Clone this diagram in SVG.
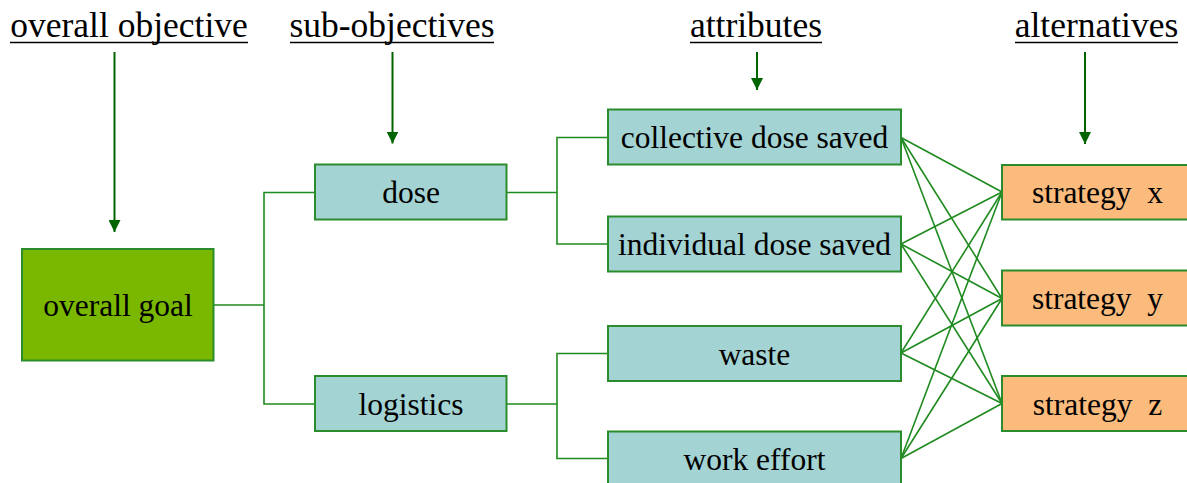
<svg xmlns="http://www.w3.org/2000/svg" width="1187" height="483" viewBox="0 0 1187 483">
<style>
.hdr{font-family:"Liberation Serif","Times New Roman",serif;font-size:35.5px;fill:#000;text-anchor:middle}
.lbl{font-family:"Liberation Serif","Times New Roman",serif;font-size:31.5px;fill:#000;text-anchor:middle}
.ul{stroke:#000;stroke-width:1.6}
.box{stroke:#2a8c2a;stroke-width:2}
.goal{fill:#7ab800}
.sub{fill:#a3d3d3}
.alt{fill:#fbbb7c}
.con{stroke:#1f8a1f;stroke-width:1.6;fill:none}
.arr{stroke:#006400;stroke-width:2;fill:none}
</style>
<defs>
<marker id="ah" markerWidth="12" markerHeight="12" viewBox="0 0 12 12" refX="12" refY="6" orient="auto" markerUnits="userSpaceOnUse">
<path d="M0,0 L12,6 L0,12 z" fill="#006400"/>
</marker>
</defs>
<rect width="1187" height="483" fill="#fff"/>
<g id="headers">
<text class="hdr" x="129" y="37">overall objective</text>
<line class="ul" x1="10" y1="42.5" x2="248" y2="42.5"/>
<text class="hdr" x="392" y="37">sub-objectives</text>
<line class="ul" x1="290" y1="42.5" x2="494" y2="42.5"/>
<text class="hdr" x="756" y="37">attributes</text>
<line class="ul" x1="690" y1="42.5" x2="822" y2="42.5"/>
<text class="hdr" x="1096.5" y="37">alternatives</text>
<line class="ul" x1="1015" y1="42.5" x2="1178" y2="42.5"/>
</g>
<g id="header-arrows">
<line class="arr" x1="114.5" y1="52" x2="114.5" y2="232" marker-end="url(#ah)"/>
<line class="arr" x1="392.5" y1="52" x2="392.5" y2="143.5" marker-end="url(#ah)"/>
<line class="arr" x1="757" y1="52" x2="757" y2="90" marker-end="url(#ah)"/>
<line class="arr" x1="1085" y1="52" x2="1085" y2="144" marker-end="url(#ah)"/>
</g>
<g id="connectors">
<polyline class="con" points="213,305 264,305"/>
<polyline class="con" points="315,192.5 264,192.5 264,404 315,404"/>
<polyline class="con" points="507,192.5 557,192.5"/>
<polyline class="con" points="608,137.5 557,137.5 557,244 608,244"/>
<polyline class="con" points="507,404 557,404"/>
<polyline class="con" points="608,353.5 557,353.5 557,458.5 608,458.5"/>
<line class="con" x1="901" y1="137.5" x2="1002" y2="192"/>
<line class="con" x1="901" y1="137.5" x2="1002" y2="298.5"/>
<line class="con" x1="901" y1="137.5" x2="1002" y2="403.5"/>
<line class="con" x1="901" y1="244" x2="1002" y2="192"/>
<line class="con" x1="901" y1="244" x2="1002" y2="298.5"/>
<line class="con" x1="901" y1="244" x2="1002" y2="403.5"/>
<line class="con" x1="901" y1="353" x2="1002" y2="192"/>
<line class="con" x1="901" y1="353" x2="1002" y2="298.5"/>
<line class="con" x1="901" y1="353" x2="1002" y2="403.5"/>
<line class="con" x1="901" y1="458.5" x2="1002" y2="192"/>
<line class="con" x1="901" y1="458.5" x2="1002" y2="298.5"/>
<line class="con" x1="901" y1="458.5" x2="1002" y2="403.5"/>
</g>
<g id="overall-goal">
<rect class="box goal" x="22" y="249" width="191.5" height="111.5"/>
<text class="lbl" x="118" y="316">overall goal</text>
</g>
<g id="dose">
<rect class="box sub" x="315" y="164.5" width="191.5" height="55"/>
<text class="lbl" x="411" y="203">dose</text>
</g>
<g id="logistics">
<rect class="box sub" x="315" y="376" width="191.5" height="55"/>
<text class="lbl" x="411" y="414.5">logistics</text>
</g>
<g id="collective-dose-saved">
<rect class="box sub" x="608" y="109.5" width="293" height="55"/>
<text class="lbl" x="754.5" y="148">collective dose saved</text>
</g>
<g id="individual-dose-saved">
<rect class="box sub" x="608" y="216.5" width="293" height="55"/>
<text class="lbl" x="754.5" y="255">individual dose saved</text>
</g>
<g id="waste">
<rect class="box sub" x="608" y="326" width="293" height="55"/>
<text class="lbl" x="754.5" y="364.5">waste</text>
</g>
<g id="work-effort">
<rect class="box sub" x="608" y="431.5" width="293" height="55"/>
<text class="lbl" x="754.5" y="470">work effort</text>
</g>
<g id="strategy-x">
<rect class="box alt" x="1002" y="165" width="200" height="54.5"/>
<text class="lbl" x="1097.5" y="203" xml:space="preserve">strategy  x</text>
</g>
<g id="strategy-y">
<rect class="box alt" x="1002" y="270.5" width="200" height="55"/>
<text class="lbl" x="1097.5" y="309" xml:space="preserve">strategy  y</text>
</g>
<g id="strategy-z">
<rect class="box alt" x="1002" y="376" width="200" height="55"/>
<text class="lbl" x="1097.5" y="414.5" xml:space="preserve">strategy  z</text>
</g>
</svg>
